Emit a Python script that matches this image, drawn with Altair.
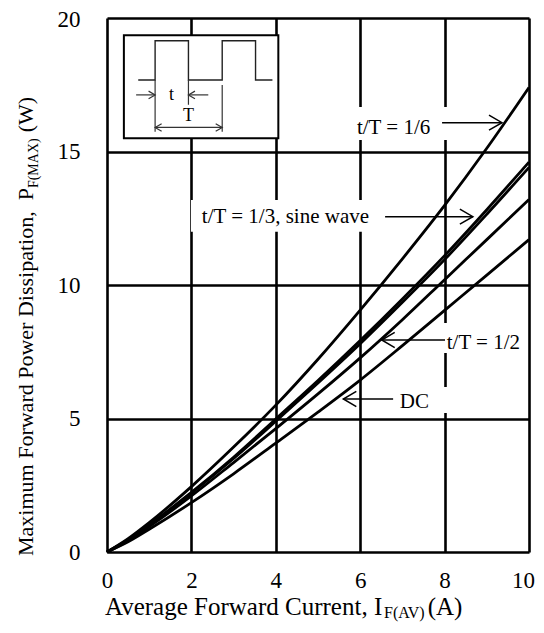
import altair as alt
import pandas as pd

# ---------------- chart values ----------------
current = [0, 0.5, 1, 2, 3, 4, 5, 6, 7, 8, 9, 10]
p_dc    = [0, 0.38, 0.85, 1.85, 2.93, 4.08, 5.24, 6.44, 7.73, 9.05, 10.37, 11.7]
p_half  = [0, 0.42, 0.95, 2.10, 3.35, 4.62, 5.92, 7.27, 8.70, 10.2, 11.7, 13.2]
p_third = [0, 0.45, 1.00, 2.20, 3.50, 4.90, 6.33, 7.80, 9.35, 10.95, 12.65, 14.4]
p_sine  = [0, 0.46, 1.02, 2.23, 3.55, 4.98, 6.42, 7.92, 9.48, 11.1, 12.82, 14.6]
p_sixth = [0, 0.50, 1.10, 2.45, 3.93, 5.50, 7.22, 9.06, 10.98, 12.98, 15.12, 17.4]
series_names = ["DC", "t/T = 1/2", "t/T = 1/3", "sine wave", "t/T = 1/6"]

x_ticks = [0, 2, 4, 6, 8, 10]
y_ticks = [0, 5, 10, 15, 20]

# annotation labels (data coordinates)
ann_text  = ["t/T = 1/6", "t/T = 1/3, sine wave", "t/T = 1/2", "DC"]
ann_x     = [7.66, 6.21, 8.05, 6.94]
ann_y     = [15.66, 12.33, 7.60, 5.39]
ann_align = ["right", "right", "left", "left"]
box_x1 = [5.76, 1.99, 7.94, 6.82]
box_x2 = [8.06, 6.30, 9.91, 8.06]
box_y1 = [15.43, 11.99, 7.45, 5.21]
box_y2 = [16.67, 13.18, 8.58, 6.18]
arr_x1 = [7.94, 6.59, 6.51, 5.60]
arr_x2 = [9.36, 8.67, 8.01, 6.78]
arr_y  = [16.08, 12.56, 7.94, 5.73]
arr_dir = ["right", "right", "left", "left"]

# inset (pulse waveform sketch)
inset_box = [0.40, 4.06, 15.50, 19.35]
wave_x = [0.74, 1.14, 1.14, 1.93, 1.93, 2.73, 2.73, 3.52, 3.52, 3.92]
wave_y = [17.68, 17.68, 19.15, 19.15, 17.68, 17.68, 19.15, 19.15, 17.68, 17.68]
irule_x1 = [1.14, 1.93, 2.73, 0.69, 1.93, 1.14]
irule_x2 = [1.14, 1.93, 2.73, 1.14, 2.40, 2.73]
irule_y1 = [17.68, 17.68, 17.49, 17.12, 17.12, 15.90]
irule_y2 = [15.74, 16.75, 15.74, 17.12, 17.12, 15.90]
ihead_x = [1.14, 1.93, 1.14, 2.73]
ihead_y = [17.12, 17.12, 15.90, 15.90]
ihead_dir = ["right", "left", "left", "right"]
itext = ["t", "T"]
itext_x = [1.53, 1.93]
itext_y = [17.12, 16.32]

FONT = "Liberation Serif"

# ---------------- helpers ----------------
TIMES = {' ': 250, '\u00a0': 250, '(': 333, ')': 333, ',': 250, '/': 278, '=': 564,
         'A': 722, 'C': 667, 'D': 722, 'F': 556, 'I': 333, 'M': 889, 'P': 556, 'V': 722,
         'W': 944, 'X': 722, 'a': 444, 'd': 500, 'e': 444, 'g': 500, 'i': 278, 'm': 778,
         'n': 500, 'o': 500, 'p': 500, 'r': 333, 's': 389, 't': 278, 'u': 500, 'v': 500,
         'w': 722, 'x': 500}


def tw(s, size):
    return sum(TIMES.get(c, 500) for c in s) * size / 1000.0


XS = alt.Scale(domain=[0, 10], nice=False, zero=False)
YS = alt.Scale(domain=[0, 20], nice=False, zero=False)

rows = []
for name, vals in zip(series_names, [p_dc, p_half, p_third, p_sine, p_sixth]):
    for i, (c, p) in enumerate(zip(current, vals)):
        rows.append({"series": name, "I": c, "P": p, "o": i})
curves_df = pd.DataFrame(rows)

curves = alt.Chart(curves_df).mark_line(
    color="black", strokeWidth=2.8, interpolate="monotone"
).encode(
    x=alt.X("I:Q", scale=XS, axis=alt.Axis(
        values=x_ticks, grid=True, gridColor="black", gridWidth=2.6, gridOpacity=1,
        domain=False, ticks=False, tickSize=0, labelFont=FONT, labelFontSize=23,
        labelColor="black", labelPadding=17, title=None, labelFlush=False,
        labelOffset={"condition": {"test": "datum.value === 10", "value": -6}, "value": 0})),
    y=alt.Y("P:Q", scale=YS, axis=alt.Axis(
        values=y_ticks, grid=True, gridColor="black", gridWidth=2.6, gridOpacity=1,
        domain=False, ticks=False, tickSize=0, labelFont=FONT, labelFontSize=23,
        labelColor="black", labelPadding=27, title=None, labelFlush=False,
        labelOffset={"condition": {"test": "datum.value === 20", "value": 1}, "value": 0})),
    detail="series:N",
    order="o:Q",
)

ann_df = pd.DataFrame({"text": ann_text, "x": ann_x, "y": ann_y, "align": ann_align,
                       "bx1": box_x1, "bx2": box_x2, "by1": box_y1, "by2": box_y2,
                       "ax1": arr_x1, "ax2": arr_x2, "ay": arr_y, "dir": arr_dir})
ann_df["tipx"] = [r.ax2 if r.dir == "right" else r.ax1 for r in ann_df.itertuples()]

boxes = alt.Chart(ann_df).mark_rect(fill="white", stroke=None).encode(
    x=alt.X("bx1:Q", scale=XS), x2="bx2:Q",
    y=alt.Y("by1:Q", scale=YS), y2="by2:Q")

texts_r = alt.Chart(ann_df[ann_df["align"] == "right"]).mark_text(
    align="right", baseline="alphabetic", font=FONT, fontSize=21, color="black"
).encode(x=alt.X("x:Q", scale=XS), y=alt.Y("y:Q", scale=YS), text="text:N")
texts_l = alt.Chart(ann_df[ann_df["align"] == "left"]).mark_text(
    align="left", baseline="alphabetic", font=FONT, fontSize=21, color="black"
).encode(x=alt.X("x:Q", scale=XS), y=alt.Y("y:Q", scale=YS), text="text:N")

shafts = alt.Chart(ann_df).mark_rule(color="black", strokeWidth=1.5).encode(
    x=alt.X("ax1:Q", scale=XS), x2="ax2:Q", y=alt.Y("ay:Q", scale=YS))

RIGHT_HEAD = "M -1 -0.58 L 0 0 L -1 0.58"
LEFT_HEAD = "M 1 -0.58 L 0 0 L 1 0.58"

heads_r = alt.Chart(ann_df[ann_df["dir"] == "right"]).mark_point(
    shape=RIGHT_HEAD, filled=False, color="black", strokeWidth=1.5, size=676, opacity=1
).encode(x=alt.X("tipx:Q", scale=XS), y=alt.Y("ay:Q", scale=YS))
heads_l = alt.Chart(ann_df[ann_df["dir"] == "left"]).mark_point(
    shape=LEFT_HEAD, filled=False, color="black", strokeWidth=1.5, size=676, opacity=1
).encode(x=alt.X("tipx:Q", scale=XS), y=alt.Y("ay:Q", scale=YS))

# inset
ibox_df = pd.DataFrame({"x1": [inset_box[0]], "x2": [inset_box[1]],
                        "y1": [inset_box[2]], "y2": [inset_box[3]]})
ibox = alt.Chart(ibox_df).mark_rect(fill="white", stroke="black", strokeWidth=2).encode(
    x=alt.X("x1:Q", scale=XS), x2="x2:Q", y=alt.Y("y1:Q", scale=YS), y2="y2:Q")

wave_df = pd.DataFrame({"x": wave_x, "y": wave_y, "o": list(range(len(wave_x)))})
wave = alt.Chart(wave_df).mark_line(color="#222222", strokeWidth=1.4).encode(
    x=alt.X("x:Q", scale=XS), y=alt.Y("y:Q", scale=YS), order="o:Q")

irule_df = pd.DataFrame({"x1": irule_x1, "x2": irule_x2, "y1": irule_y1, "y2": irule_y2})
irules = alt.Chart(irule_df).mark_rule(color="#333333", strokeWidth=1.2).encode(
    x=alt.X("x1:Q", scale=XS), x2="x2:Q", y=alt.Y("y1:Q", scale=YS), y2="y2:Q")

ihead_df = pd.DataFrame({"x": ihead_x, "y": ihead_y, "dir": ihead_dir})
iheads_r = alt.Chart(ihead_df[ihead_df["dir"] == "right"]).mark_point(
    shape=RIGHT_HEAD, filled=False, color="#333333", strokeWidth=1.2, size=170, opacity=1
).encode(x=alt.X("x:Q", scale=XS), y=alt.Y("y:Q", scale=YS))
iheads_l = alt.Chart(ihead_df[ihead_df["dir"] == "left"]).mark_point(
    shape=LEFT_HEAD, filled=False, color="#333333", strokeWidth=1.2, size=170, opacity=1
).encode(x=alt.X("x:Q", scale=XS), y=alt.Y("y:Q", scale=YS))

itext_df = pd.DataFrame({"t": itext, "x": itext_x, "y": itext_y})
itexts = alt.Chart(itext_df).mark_text(
    font=FONT, fontSize=18, color="black", baseline="middle", align="center"
).encode(x=alt.X("x:Q", scale=XS), y=alt.Y("y:Q", scale=YS), text="t:N")

# axis titles with subscripts (pixel placement relative to the plot area)
one = pd.DataFrame({"k": [0]})
XMAIN, XSUB = 25, 16
YMAIN, YSUB = 22, 14

xt_main = "Average Forward Current, I"
xt_sub = "F(AV)"
xt_end = " (A)"
x0, yb = -2, 597
x1 = x0 + tw(xt_main, XMAIN)
x2 = x1 + tw(xt_sub, XSUB) + 1
xtitle = [
    alt.Chart(one).mark_text(text=xt_main, font=FONT, fontSize=XMAIN, color="black",
                             align="left", baseline="alphabetic").encode(
        x=alt.value(x0), y=alt.value(yb)),
    alt.Chart(one).mark_text(text=xt_sub, font=FONT, fontSize=XSUB, color="black",
                             align="left", baseline="alphabetic").encode(
        x=alt.value(x1), y=alt.value(yb + 3)),
    alt.Chart(one).mark_text(text=xt_end, font=FONT, fontSize=XMAIN, color="black",
                             align="left", baseline="alphabetic").encode(
        x=alt.value(x2), y=alt.value(yb)),
]

yt_main = "Maximum Forward Power Dissipation,\u00a0 P"
yt_sub = "F(MAX)"
yt_end = "(W)"
bx, y0 = -74, 538
y1 = y0 - tw(yt_main, YMAIN)
y2 = y1 - tw(yt_sub, YSUB) - 6
ytitle = [
    alt.Chart(one).mark_text(text=yt_main, font=FONT, fontSize=YMAIN, color="black",
                             align="left", baseline="alphabetic", angle=270).encode(
        x=alt.value(bx), y=alt.value(y0)),
    alt.Chart(one).mark_text(text=yt_sub, font=FONT, fontSize=YSUB, color="black",
                             align="left", baseline="alphabetic", angle=270).encode(
        x=alt.value(bx + 5), y=alt.value(y1)),
    alt.Chart(one).mark_text(text=yt_end, font=FONT, fontSize=YMAIN, color="black",
                             align="left", baseline="alphabetic", angle=270).encode(
        x=alt.value(bx), y=alt.value(y2)),
]

chart = alt.layer(
    curves, boxes, ibox, wave, irules, iheads_r, iheads_l, itexts,
    shafts, heads_r, heads_l, texts_r, texts_l, *xtitle, *ytitle
).properties(
    width=422, height=534,
    padding={"left": 99, "top": 10, "right": 7, "bottom": 70},
    autosize=alt.AutoSizeParams(type="none"),
).configure_view(
    stroke="black", strokeWidth=3
).configure(background="white")

chart.save("out.html", embed_options={"renderer": "svg", "actions": False})
